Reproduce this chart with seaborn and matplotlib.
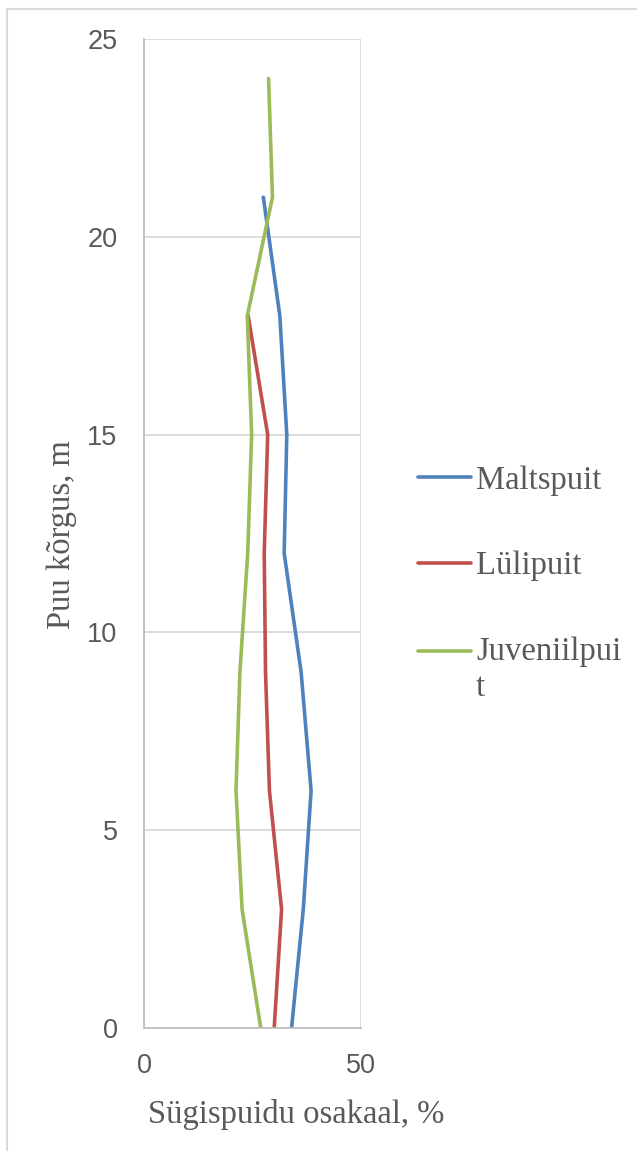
import matplotlib
matplotlib.use("Agg")
import matplotlib.pyplot as plt
from matplotlib.patches import Rectangle
import seaborn as sns
import pandas as pd

# Tree height (m) at which each sample was taken
heights_malts = [0, 3, 6, 9, 12, 15, 18, 21]
heights_luli = [0, 3, 6, 9, 12, 15, 18]
heights_juv = [0, 3, 6, 9, 12, 15, 18, 21, 24]

# Latewood share (%) per wood type
maltspuit = [34.0, 36.7, 38.5, 36.2, 32.3, 32.9, 31.3, 27.5]
lulipuit = [30.0, 31.7, 28.9, 28.0, 27.7, 28.5, 24.0]
juveniilpuit = [26.9, 22.6, 21.2, 22.1, 23.9, 24.8, 23.8, 29.6, 28.7]

series_names = ["Maltspuit", "Lülipuit", "Juveniilpuit"]
legend_labels = ["Maltspuit", "Lülipuit", "Juveniilpui\nt"]
colors = ["#4F81BD", "#C0504D", "#9BBB59"]

x_ticks = [0, 50]
y_ticks = [0, 5, 10, 15, 20, 25]

frames = []
for name, hs, vals in zip(series_names,
                          [heights_malts, heights_luli, heights_juv],
                          [maltspuit, lulipuit, juveniilpuit]):
    frames.append(pd.DataFrame({"kõrgus": hs, "osakaal": vals, "puit": name}))
df = pd.concat(frames, ignore_index=True)

sns.set_theme(style="white")
plt.rcParams["font.family"] = ["Liberation Sans", "DejaVu Sans"]

fig = plt.figure(figsize=(6.37, 11.51), dpi=100)
ax = fig.add_axes([144 / 637, 1 - 1028 / 1151, 217 / 637, 989 / 1151])

LW = 2.6
sns.lineplot(data=df, x="osakaal", y="kõrgus", hue="puit", hue_order=series_names,
             palette=dict(zip(series_names, colors)), orient="y", sort=True,
             linewidth=LW, ax=ax, legend=False, estimator=None)

ax.set_xlim(0, 50)
ax.set_ylim(0, 25)
ax.set_xticks(x_ticks)
ax.set_yticks(y_ticks)
ax.grid(axis="y", color="#D9D9D9", linewidth=1.3)
ax.grid(axis="x", color="#D9D9D9", linewidth=1.3)
for side in ["top", "right"]:
    ax.spines[side].set_visible(False)
for side in ["left", "bottom"]:
    ax.spines[side].set_color("#BFBFBF")
    ax.spines[side].set_linewidth(1.3)
ax.tick_params(axis="both", length=0, labelsize=19.5, colors="#595959")
ax.tick_params(axis="y", pad=19)
ax.tick_params(axis="x", pad=18)

serif = ["Liberation Serif", "DejaVu Serif"]
FS = 23.5
ax.set_xlabel("")
ax.set_ylabel("")
fig.text(296 / 637, 1 - 1114 / 1151, "Sügispuidu osakaal, %", family=serif,
         fontsize=FS, color="#595959", ha="center", va="center")
fig.text(62 / 637, 1 - 535 / 1151, "Puu kõrgus, m", family=serif,
         fontsize=FS, color="#595959", ha="center", va="center", rotation=90)

handles = [plt.Line2D([], [], color=c, linewidth=LW) for c in colors]
leg = fig.legend(handles, legend_labels, loc="upper left",
                 bbox_to_anchor=(418 / 637, 1 - 465 / 1151),
                 frameon=False, prop={"family": serif, "size": FS},
                 handlelength=1.63, handletextpad=0.15, labelspacing=1.7,
                 borderaxespad=0, borderpad=0)
for t in leg.get_texts():
    t.set_color("#595959")

# Keep the wrapped entry's key on its first text line
wrapped_line = leg.get_lines()[2]
y0 = wrapped_line.get_ydata()
wrapped_line.set_ydata([v + 0.6 * FS for v in y0])

# Light frame around the chart area
fig.add_artist(Rectangle((7 / 637, -0.05), 1.2, 0.05 + 1 - 9 / 1151,
                         transform=fig.transFigure, fill=False,
                         edgecolor="#D9D9D9", linewidth=1.5))

fig.savefig("out.png", dpi=100)
